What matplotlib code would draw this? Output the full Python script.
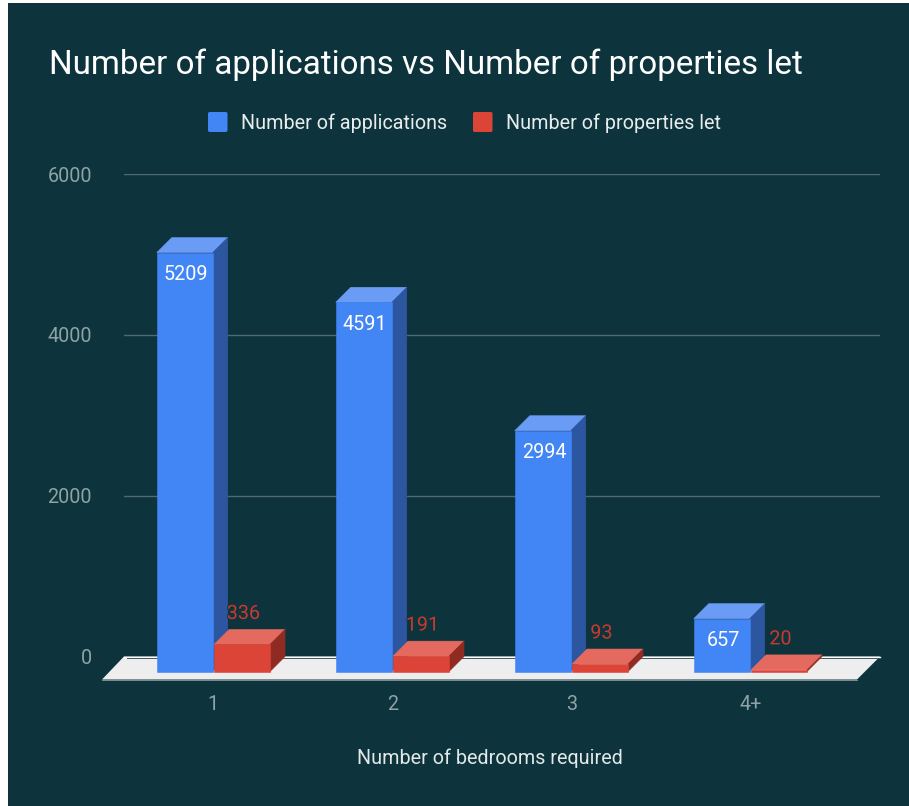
import matplotlib
matplotlib.use('Agg')
import matplotlib.pyplot as plt
import matplotlib.patheffects as pe
from matplotlib.patches import Rectangle, FancyBboxPatch

categories = ['1', '2', '3', '4+']
applications = [5209, 4591, 2994, 657]
properties_let = [336, 191, 93, 20]
series_names = ['Number of applications', 'Number of properties let']
y_ticks = [0, 2000, 4000, 6000]

W, H = 909, 806
BG = '#0d343c'
BLUE = ('#4285f4', '#6a9cf6', '#2d56a0')
RED = ('#dc4437', '#e4695e', '#8f2b22')
FS = 14.2

plt.rcParams['font.family'] = ['Roboto', 'DejaVu Sans']

fig = plt.figure(figsize=(W / 100, H / 100), dpi=100, facecolor='white')
fig.patches.append(Rectangle((8 / W, 0), 1, 1 - 3 / H, transform=fig.transFigure,
                             facecolor=BG, edgecolor='none', zorder=-10))

# axes is the back wall of the chart, front faces get shifted by the depth
ax = fig.add_axes([124 / W, 1 - 656.5 / H, (880 - 124) / W, (656.5 - 174) / H])
ax.patch.set_alpha(0)
step = 179.0
ax.set_xlim((124 - 213.4) / step, (880 - 213.4) / step)
ax.set_ylim(0, 6000)
for s in ax.spines.values():
    s.set_visible(False)

px_y = 6000 / 482.5
dx = 15 / step
dy = 15 * px_y
bar_w = 56 / step
off = 0.16

ax.set_yticks(y_ticks)
ax.set_xticks(range(len(categories)))
ax.set_xticklabels(categories)
ax.tick_params(axis='y', length=0, pad=23, labelsize=FS, labelcolor='#8fa3a6')
ax.tick_params(axis='x', length=0, pad=28, labelsize=FS, labelcolor='#8fa3a6')
ax.grid(axis='y', color='#4f6a70', lw=1)
ax.grid(axis='x', visible=False)
ax.set_axisbelow(True)

# floor
fx0, fx1 = ax.get_xlim()
ax.fill([fx0, fx1, fx1 - 23 / step, fx0 - 22 / step],
        [0, 0, -23 * px_y, -23 * px_y], color='#eeeeee', lw=0, zorder=1, clip_on=False)
ax.plot([fx0, fx1], [0, 0], color='#ffffff', lw=1, zorder=1.2, clip_on=False)
ax.plot([fx0 + 3 / step, fx1], [-1.3 * px_y, -1.3 * px_y], color='#3d585d', lw=0.7, zorder=1.2, clip_on=False)
ax.plot([fx0 - 22 / step, fx1 - 23 / step], [-23.3 * px_y, -23.3 * px_y], color='#a9b5b7', lw=0.5,
        zorder=1.2, clip_on=False)


def box(x, v, cols):
    left, right = x - bar_w / 2, x + bar_w / 2
    top = v - dy
    # top and side first, with a hairline edge so no seam shows the floor
    ax.fill([left, right, right + dx, left + dx], [top, top, v, v], color=cols[1], lw=0.4,
            zorder=3, clip_on=False)
    ax.fill([right, right + dx, right + dx, right], [-dy, 0, v, top], color=cols[2], lw=0.4,
            zorder=3, clip_on=False)
    ax.bar(x, v, width=bar_w, bottom=-dy, color=cols[0], lw=0.4, edgecolor=cols[0], zorder=3.1, clip_on=False)


for i in range(len(categories)):
    box(i - off, applications[i], BLUE)
for i in range(len(categories)):
    box(i + off, properties_let[i], RED)
    ax.text(i - off + 0.007, applications[i] - dy - 22 * px_y, str(applications[i]), color='white',
            fontsize=FS, ha='center', va='center', zorder=5)
    t = ax.text(i + off + 0.008, properties_let[i] - dy + 31 * px_y, str(properties_let[i]), color='#c9392e',
                fontsize=FS, ha='center', va='center', zorder=5)
    t.set_path_effects([pe.withStroke(linewidth=1.2, foreground=BG)])

ax.set_xlabel('Number of bedrooms required', color='#e3e8e9', fontsize=FS)
ax.xaxis.set_label_coords((490 - 124) / (880 - 124), -(758 - 656.5) / (656.5 - 174), transform=ax.transAxes)
ax.xaxis.label.set_va('center')

fig.text(49 / W, 1 - 65 / H, 'Number of applications vs Number of properties let', color='white',
         fontsize=23.9, ha='left', va='center')

# legend
for x0, name, col in zip([208, 473], series_names, [BLUE[0], RED[0]]):
    fig.patches.append(FancyBboxPatch((x0 / W, 1 - 132 / H), 19.5 / W, 20 / H, transform=fig.transFigure,
                                      boxstyle='round,pad=0,rounding_size=0.002', facecolor=col, edgecolor='none'))
    fig.text((x0 + 33) / W, 1 - 123.5 / H, name, color='#e8ecec', fontsize=FS, ha='left', va='center')

fig.savefig('out.png', dpi=100, facecolor='white')
